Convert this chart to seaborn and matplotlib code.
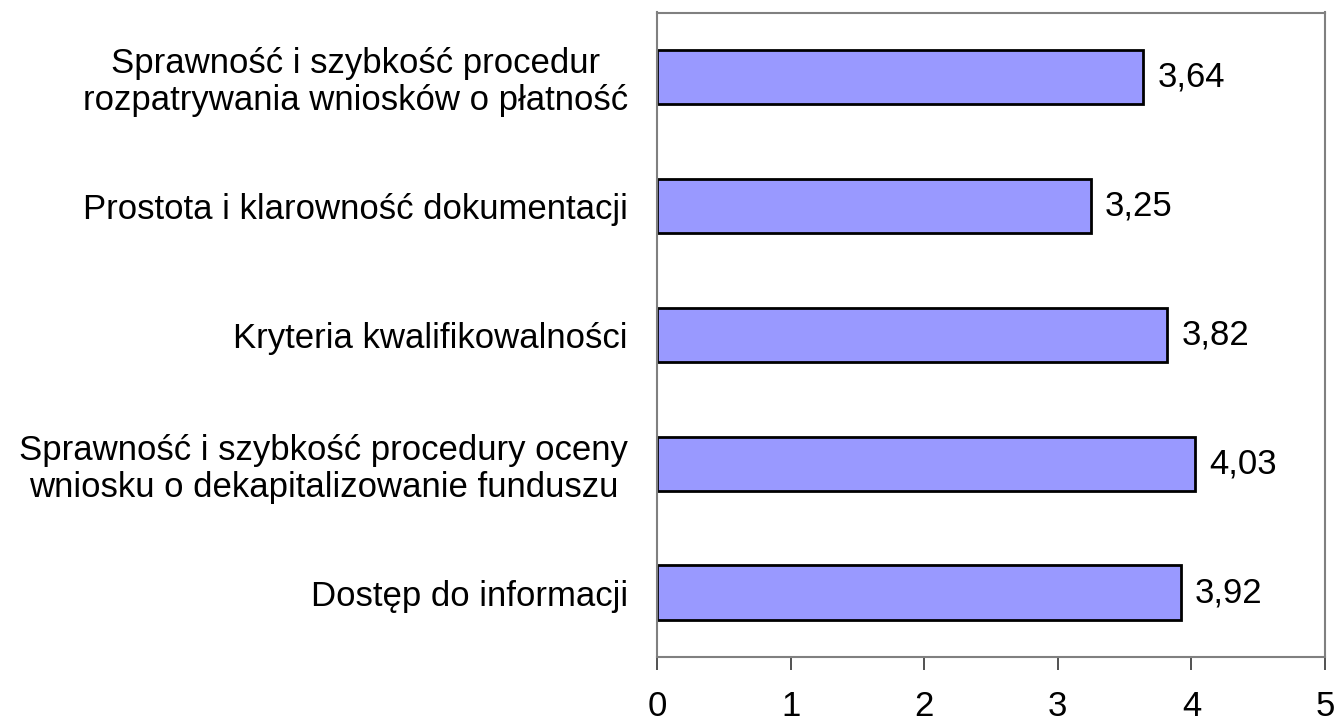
import matplotlib
matplotlib.use("Agg")
import matplotlib.pyplot as plt
import seaborn as sns
import pandas as pd

categories = [
    "Sprawność i szybkość procedur\nrozpatrywania wniosków o płatność",
    "Prostota i klarowność dokumentacji",
    "Kryteria kwalifikowalności",
    "Sprawność i szybkość procedury oceny\nwniosku o dekapitalizowanie funduszu",
    "Dostęp do informacji",
]
values = [3.64, 3.25, 3.82, 4.03, 3.92]
value_labels = ["3,64", "3,25", "3,82", "4,03", "3,92"]
x_ticks = [0, 1, 2, 3, 4, 5]

sns.set_theme(style="white")
plt.rcParams["font.family"] = ["Liberation Sans", "DejaVu Sans"]
plt.rcParams["text.color"] = "black"
plt.rcParams["xtick.color"] = "black"
plt.rcParams["ytick.color"] = "black"

fig = plt.figure(figsize=(13.42, 7.26), dpi=100)
ax = fig.add_axes([657 / 1342, 1 - 657 / 726, (1325 - 657) / 1342, (657 - 12.5) / 726])

df = pd.DataFrame({"cat": categories, "val": values})
sns.barplot(data=df, x="val", y="cat", orient="h", color="#9999FF",
            edgecolor="black", linewidth=2, width=0.42, saturation=1, ax=ax)

ax.bar_label(ax.containers[0], labels=value_labels, padding=10, fontsize=25,
             color="black")

ax.set_xlim(0, 5)
ax.set_ylim(4.5, -0.5)
ax.set_xticks(x_ticks)
ax.set_xticklabels([str(t) for t in x_ticks], fontsize=25)
ax.tick_params(axis="x", bottom=True, direction="out", length=9, width=1.2,
               color="#333333", labelcolor="black", pad=15)
ax.tick_params(axis="y", left=False, labelsize=25, pad=15, labelcolor="black")
for lbl in ax.get_yticklabels():
    lbl.set_horizontalalignment("right")
    lbl.set_multialignment("center")
    lbl.set_linespacing(1.15)
ax.set_xlabel("")
ax.set_ylabel("")
for s in ax.spines.values():
    s.set_visible(True)
    s.set_color("#808080")
    s.set_linewidth(1.5)

fig.savefig("out.png", dpi=100)
